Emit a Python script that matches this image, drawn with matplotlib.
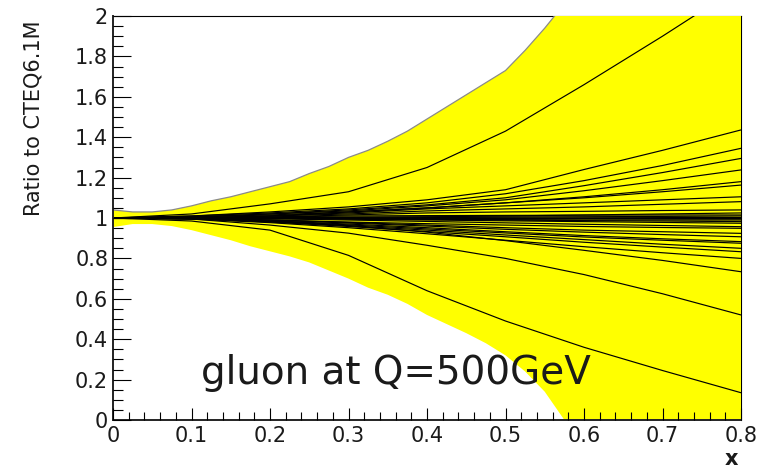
import matplotlib
matplotlib.use("Agg")
import matplotlib.pyplot as plt
from matplotlib.ticker import MultipleLocator

# yellow error band (upper edge = the grey extreme set)
band_x = [0.0, 0.025, 0.05, 0.075, 0.1, 0.125, 0.15, 0.175, 0.2, 0.225, 0.25,
          0.275, 0.3, 0.325, 0.35, 0.375, 0.4, 0.425, 0.45, 0.475, 0.5, 0.525,
          0.55, 0.575, 0.6, 0.625, 0.65, 0.675, 0.7, 0.725, 0.75, 0.775, 0.8]
band_upper = [1.04, 1.03, 1.03, 1.04, 1.06, 1.085, 1.105, 1.13, 1.155, 1.18, 1.22,
              1.255, 1.30, 1.335, 1.38, 1.43, 1.49, 1.55, 1.61, 1.67, 1.73, 1.83,
              1.94, 2.06, 2.18, 2.31, 2.45, 2.6, 2.76, 2.93, 3.1, 3.3, 3.5]
band_lower = [0.955, 0.97, 0.97, 0.96, 0.94, 0.915, 0.89, 0.86, 0.835, 0.81, 0.78,
              0.74, 0.70, 0.655, 0.62, 0.575, 0.52, 0.475, 0.43, 0.38, 0.32, 0.24,
              0.14, 0.0, 0.0, 0.0, 0.0, 0.0, 0.0, 0.0, 0.0, 0.0, 0.0]

# error sets, ratio read at these x
x_nodes = [0.0, 0.1, 0.2, 0.3, 0.4, 0.5, 0.6, 0.7, 0.8]
upper_sets = [
    [1.0, 1.02, 1.07, 1.13, 1.25, 1.43, 1.66, 1.90, 2.15],
    [1.0, 1.01, 1.03, 1.055, 1.09, 1.14, 1.24, 1.335, 1.436],
    [1.0, 1.01, 1.025, 1.045, 1.075, 1.12, 1.185, 1.26, 1.345],
    [1.0, 1.005, 1.02, 1.04, 1.065, 1.10, 1.16, 1.225, 1.295],
    [1.0, 1.005, 1.02, 1.035, 1.06, 1.09, 1.135, 1.185, 1.238],
    [1.0, 1.005, 1.015, 1.03, 1.05, 1.075, 1.105, 1.14, 1.18],
    [1.0, 1.0, 1.01, 1.03, 1.05, 1.075, 1.10, 1.13, 1.163],
    [1.0, 1.0, 1.01, 1.025, 1.045, 1.06, 1.075, 1.09, 1.105],
    [1.0, 1.0, 1.01, 1.02, 1.035, 1.045, 1.055, 1.068, 1.081],
    [1.0, 1.0, 1.005, 1.015, 1.025, 1.03, 1.033, 1.037, 1.04],
    [1.0, 1.0, 1.005, 1.01, 1.012, 1.013, 1.014, 1.015, 1.015],
]
central_sets = [
    [1.0, 1.0, 1.0, 1.0, 1.002, 1.004, 1.006, 1.008, 1.01],
    [1.0, 1.0, 1.0, 1.0, 1.0, 1.0, 1.0, 1.0, 1.0],
    [1.0, 1.0, 1.0, 0.998, 0.997, 0.996, 0.996, 0.995, 0.995],
    [1.0, 1.0, 1.002, 1.004, 1.005, 1.005, 1.004, 1.003, 1.002],
    [1.0, 1.0, 0.998, 0.996, 0.993, 0.992, 0.99, 0.99, 0.99],
    [1.0, 1.0, 1.0, 1.003, 1.006, 1.01, 1.015, 1.02, 1.025],
    [1.0, 1.0, 1.0, 0.997, 0.994, 0.99, 0.987, 0.985, 0.982],
]
lower_sets = [
    [1.0, 1.0, 0.998, 0.994, 0.99, 0.986, 0.982, 0.978, 0.974],
    [1.0, 1.0, 0.996, 0.99, 0.983, 0.976, 0.969, 0.963, 0.957],
    [1.0, 0.998, 0.99, 0.98, 0.972, 0.965, 0.958, 0.953, 0.949],
    [1.0, 0.998, 0.99, 0.978, 0.965, 0.952, 0.94, 0.932, 0.924],
    [1.0, 0.998, 0.99, 0.975, 0.96, 0.944, 0.93, 0.918, 0.907],
    [1.0, 0.997, 0.986, 0.97, 0.952, 0.932, 0.913, 0.897, 0.883],
    [1.0, 0.997, 0.985, 0.966, 0.946, 0.926, 0.906, 0.89, 0.875],
    [1.0, 0.996, 0.982, 0.962, 0.94, 0.916, 0.893, 0.87, 0.85],
    [1.0, 0.996, 0.98, 0.958, 0.933, 0.907, 0.88, 0.856, 0.833],
    [1.0, 0.995, 0.977, 0.952, 0.922, 0.89, 0.858, 0.828, 0.80],
    [1.0, 0.996, 0.985, 0.962, 0.93, 0.888, 0.84, 0.79, 0.734],
    [1.0, 0.995, 0.965, 0.925, 0.865, 0.80, 0.72, 0.625, 0.52],
    [1.0, 0.985, 0.94, 0.815, 0.64, 0.49, 0.36, 0.245, 0.135],
]

x_ticks = [0.0, 0.1, 0.2, 0.3, 0.4, 0.5, 0.6, 0.7, 0.8]
x_tick_labels = ["0", "0.1", "0.2", "0.3", "0.4", "0.5", "0.6", "0.7", "0.8"]
y_ticks = [0.0, 0.2, 0.4, 0.6, 0.8, 1.0, 1.2, 1.4, 1.6, 1.8, 2.0]
y_tick_labels = ["0", "0.2", "0.4", "0.6", "0.8", "1", "1.2", "1.4", "1.6", "1.8", "2"]

TXT = "#1a1a1a"

fig = plt.figure(figsize=(7.69, 4.68), dpi=100)
ax = fig.add_axes([113/769, 1 - 420/468, (741 - 113)/769, (420 - 16)/468])

ax.fill_between(band_x, band_lower, band_upper, color="#ffff00", lw=0, zorder=2.6)
ax.plot(band_x, band_upper, color="#8a8a8a", lw=0.9, zorder=2.7)
for vals in upper_sets + central_sets + lower_sets:
    ax.plot(x_nodes, vals, color="black", lw=0.85, zorder=2.7)

ax.set_xlim(0, 0.8)
ax.set_ylim(0, 2)

# frame: top/right sit under the band like in ROOT
ax.spines["top"].set_zorder(1)
ax.spines["top"].set_linewidth(0.8)
ax.spines["right"].set_zorder(1)
for s in ["left", "bottom"]:
    ax.spines[s].set_zorder(3)
    ax.spines[s].set_linewidth(1.4)
    ax.spines[s].set_color("#222222")
ax.xaxis.set_zorder(3)
ax.yaxis.set_zorder(3)

ax.set_xticks(x_ticks)
ax.set_xticklabels(x_tick_labels)
ax.set_yticks(y_ticks)
ax.set_yticklabels(y_tick_labels)
ax.xaxis.set_minor_locator(MultipleLocator(0.02))
ax.yaxis.set_minor_locator(MultipleLocator(0.05))

ax.tick_params(axis="x", which="major", direction="in", length=8.6, width=0.8,
               pad=4.5, labelsize=15, labelcolor=TXT, top=False)
ax.tick_params(axis="x", which="minor", direction="in", length=5.5, width=0.8, top=False)
ax.tick_params(axis="y", which="major", direction="in", length=13, width=0.8,
               pad=3.5, labelsize=15, labelcolor=TXT, right=False)
ax.tick_params(axis="y", which="minor", direction="in", length=7.2, width=0.8, right=False)

ax.text(0.36, 0.18, "gluon at Q=500GeV", fontsize=28, color=TXT,
        ha="center", va="baseline", zorder=4)

fig.text(34/769, 1 - 20/468, "Ratio to CTEQ6.1M", rotation=90, ha="center",
         va="top", fontsize=15, color=TXT)
fig.text(738/769, 1 - 465/468, "x", ha="right", va="baseline", fontsize=15,
         fontweight="bold", color=TXT)

fig.savefig("out.png", dpi=100)
